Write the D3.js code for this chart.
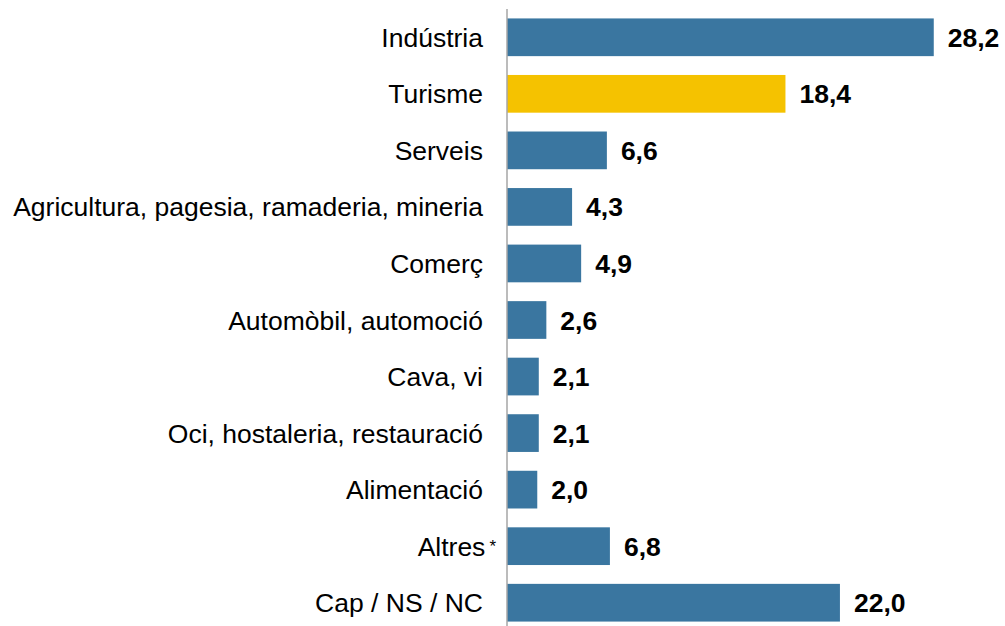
<!DOCTYPE html>
<html>
<head>
<meta charset="utf-8">
<script src="https://cdn.jsdelivr.net/npm/d3@7"></script>
<style>
  body { margin: 0; background: #fff; }
  text { font-family: "Liberation Sans", Arial, sans-serif; }
</style>
</head>
<body>
<div id="plot"></div>
<script>
const categories = ["Indústria", "Turisme", "Serveis", "Agricultura, pagesia, ramaderia, mineria",
  "Comerç", "Automòbil, automoció", "Cava, vi", "Oci, hostaleria, restauració",
  "Alimentació", "Altres", "Cap / NS / NC"];
const values = [28.2, 18.4, 6.6, 4.3, 4.9, 2.6, 2.1, 2.1, 2.0, 6.8, 22.0];
const highlight = ["Turisme"];
const footnoted = ["Altres"];

const data = categories.map((c, i) => ({ cat: c, val: values[i] }));

const width = 1005, height = 626;
const axisX = 507;

const svg = d3.select("#plot")
  .append("svg")
  .attr("width", width)
  .attr("height", height);

const x = d3.scaleLinear()
  .domain([0, 30])
  .range([axisX, axisX + 454]);

const y = d3.scaleBand()
  .domain(categories)
  .range([9, 631])
  .paddingInner(0.333)
  .paddingOuter(0.1667);

const fmt = d => d3.format(".1f")(d).replace(".", ",");

// bars
svg.selectAll("rect.bar")
  .data(data)
  .enter().append("rect")
  .attr("class", "bar")
  .attr("x", x(0))
  .attr("y", d => y(d.cat))
  .attr("width", d => x(d.val) - x(0))
  .attr("height", y.bandwidth())
  .attr("fill", d => highlight.includes(d.cat) ? "#f5c200" : "#3a76a0");

// value labels
svg.selectAll("text.val")
  .data(data)
  .enter().append("text")
  .attr("class", "val")
  .attr("x", d => x(d.val) + 14)
  .attr("y", d => y(d.cat) + y.bandwidth() / 2)
  .attr("dy", "0.36em")
  .attr("font-size", 26.5)
  .attr("font-weight", "bold")
  .attr("fill", "#000")
  .text(d => fmt(d.val));

// category labels
const lab = svg.selectAll("text.cat")
  .data(data)
  .enter().append("text")
  .attr("class", "cat")
  .attr("x", d => footnoted.includes(d.cat) ? axisX - 11 : axisX - 24)
  .attr("y", d => y(d.cat) + y.bandwidth() / 2)
  .attr("dy", "0.36em")
  .attr("text-anchor", "end")
  .attr("font-size", 26.5)
  .attr("fill", "#000");

lab.append("tspan").text(d => d.cat);
lab.filter(d => footnoted.includes(d.cat))
  .append("tspan")
  .attr("dx", 4)
  .attr("dy", "-0.2em")
  .attr("font-size", 17)
  .text("*");

// axis line
svg.append("line")
  .attr("x1", axisX)
  .attr("x2", axisX)
  .attr("y1", 9)
  .attr("y2", height)
  .attr("stroke", "#a6a6a6")
  .attr("stroke-width", 1.5);
</script>
</body>
</html>
